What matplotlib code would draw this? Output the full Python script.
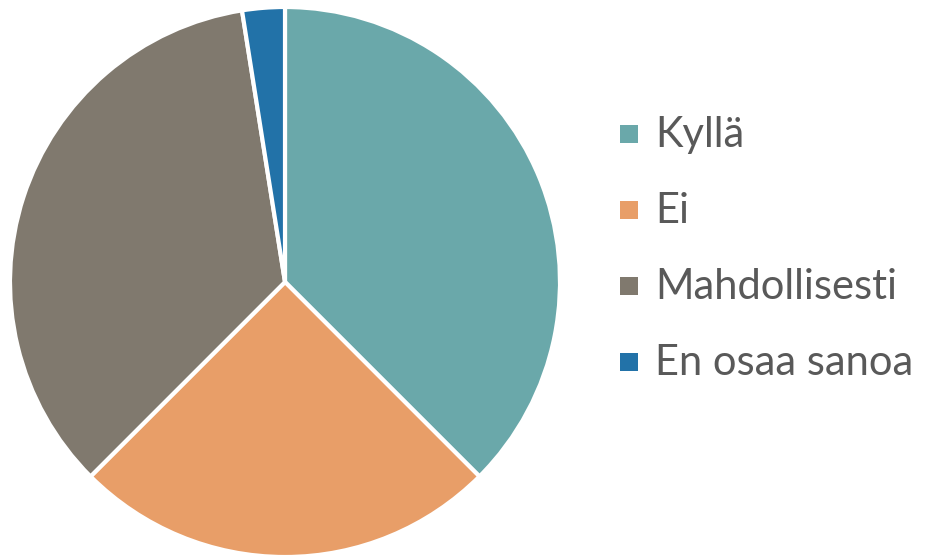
import matplotlib
matplotlib.use("Agg")
import matplotlib.pyplot as plt
from matplotlib.patches import Rectangle

labels = ["Kyllä", "Ei", "Mahdollisesti", "En osaa sanoa"]
values = [37.5, 25.0, 35.0, 2.5]
colors = ["#6aa8aa", "#e89e68", "#80796e", "#2272a8"]

W, H = 928, 556
fig = plt.figure(figsize=(W / 100, H / 100), dpi=100)
ax = fig.add_axes([10 / W, -1 / H, 550 / W, 550 / H])
ax.pie(values, colors=colors, startangle=90, counterclock=False,
       wedgeprops=dict(edgecolor="white", linewidth=3))
ax.set_xlim(-1.0, 1.0)
ax.set_ylim(-1.0, 1.0)
ax.set_aspect("equal")
ax.axis("off")

# legend drawn manually (pixel layout in image coordinates)
row_y = [134, 210, 286, 362]
sq = 18
for lab, col, yc in zip(labels, colors, row_y):
    fig.patches.append(Rectangle((620 / W, 1 - (yc + sq / 2) / H), sq / W, sq / H,
                                 transform=fig.transFigure, facecolor=col,
                                 edgecolor="none"))
    fig.text(655 / W, 1 - (yc + 13) / H, lab, ha="left", va="baseline",
             fontsize=30, color="#595959", family="Lato", fontweight="normal")
fig.savefig("out.png", dpi=100)
